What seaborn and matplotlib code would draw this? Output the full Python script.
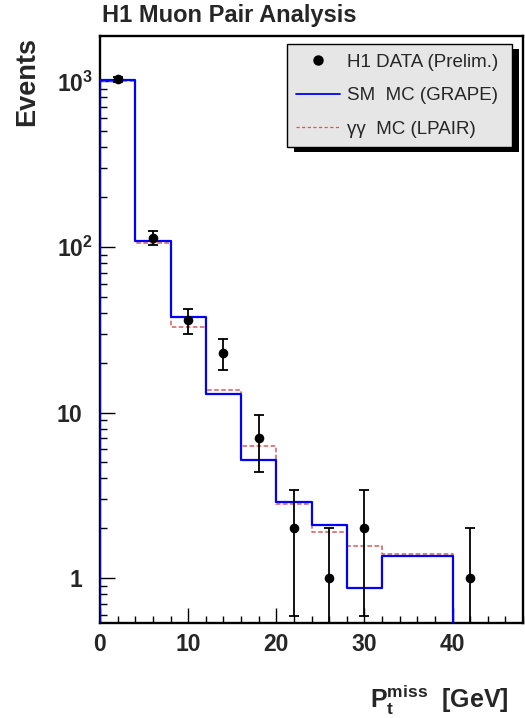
import numpy as np
import pandas as pd
import matplotlib
matplotlib.use("Agg")
import matplotlib.pyplot as plt
import seaborn as sns
from matplotlib.ticker import FixedLocator, MultipleLocator, LogLocator, NullFormatter
from matplotlib.lines import Line2D
from matplotlib.patches import Rectangle

# Missing transverse momentum histogram, bins of P_t^miss in GeV
bin_edges = [0, 4, 8, 12, 16, 20, 24, 28, 32, 40, 48]
sm_grape = [1020, 108, 37.9, 12.9, 5.2, 2.9, 2.09, 0.87, 1.36, 0]
gg_lpair = [1000, 105, 33.0, 13.7, 6.3, 2.8, 1.89, 1.57, 1.40, 0]

# H1 data points with statistical errors
data_x = [2, 6, 10, 14, 18, 22, 26, 30, 42]
data_n = [1030, 114, 36, 23, 7, 2, 1, 2, 1]
data_err = [32, 10.7, 6.0, 4.8, 2.65, 1.41, 1.0, 1.41, 1.0]

x_ticks = [0, 10, 20, 30, 40]
y_ticks = [1, 10, 100, 1000]
y_tick_labels = [r"$\mathbf{1}$", r"$\mathbf{10}$", r"$\mathbf{10^{2}}$", r"$\mathbf{10^{3}}$"]

legend_labels = ["H1 DATA (Prelim.)", "SM  MC (GRAPE)", "\u03b3\u03b3  MC (LPAIR)"]

sns.set_theme(style="ticks")
plt.rcParams["font.family"] = ["Liberation Sans", "DejaVu Sans"]
plt.rcParams["mathtext.fontset"] = "custom"
plt.rcParams["mathtext.rm"] = "Liberation Sans"
plt.rcParams["mathtext.bf"] = "Liberation Sans:bold"
plt.rcParams["mathtext.it"] = "Liberation Sans:italic"

fig = plt.figure(figsize=(5.25, 7.18), dpi=100)
ax = fig.add_axes([100 / 525, 1 - 623 / 718, 423 / 525, 587 / 718])


def step_frame(edges, values):
    xs = [edges[0]] + list(edges)
    ys = [0] + list(values) + [values[-1]]
    return pd.DataFrame({"x": xs, "y": ys})


red_df = step_frame(bin_edges, gg_lpair)
blue_df = step_frame(bin_edges, sm_grape)

sns.lineplot(data=red_df, x="x", y="y", estimator=None, sort=False,
             drawstyle="steps-post", color="#d95c5c", lw=1.1,
             linestyle=(0, (3, 1.6)), ax=ax, zorder=2)
sns.lineplot(data=blue_df, x="x", y="y", estimator=None, sort=False,
             drawstyle="steps-post", color="#0000ff", lw=1.6, ax=ax, zorder=3)

ax.set_yscale("log", nonpositive="clip")

ax.errorbar(data_x, data_n, yerr=data_err, fmt="none", ecolor="black",
            elinewidth=1.3, capsize=3.5, capthick=1.3, zorder=4)
sns.scatterplot(x=data_x, y=data_n, color="black", s=48, edgecolor="black",
                linewidth=0, ax=ax, zorder=5)

ax.set_xlim(0, 48)
ax.set_ylim(0.536, 1880)

ax.xaxis.set_major_locator(FixedLocator(x_ticks))
ax.xaxis.set_minor_locator(MultipleLocator(2))
ax.set_xticklabels([str(t) for t in x_ticks], fontsize=16.5, fontweight="bold")
ax.yaxis.set_major_locator(FixedLocator(y_ticks))
ax.yaxis.set_minor_locator(LogLocator(base=10, subs=np.arange(2, 10)))
ax.yaxis.set_minor_formatter(NullFormatter())
ax.set_yticklabels(y_tick_labels, fontsize=16.5)

ax.tick_params(which="major", direction="in", length=11, width=1.0,
               color="black", top=False, right=False)
ax.tick_params(which="minor", direction="in", length=5, width=1.0,
               color="black", top=False, right=False)
ax.tick_params(axis="x", which="major", pad=7)
for tick, lab in zip(ax.yaxis.get_major_ticks(), y_tick_labels):
    tick.set_pad(5 if "^" in lab else 12.5)

for side in ["left", "bottom", "top", "right"]:
    ax.spines[side].set_visible(True)
    ax.spines[side].set_linewidth(1.7)
    ax.spines[side].set_color("black")

ax.set_xlabel("")
ax.set_ylabel("")

handles = [
    Line2D([], [], marker="o", color="black", ls="none", markersize=6.5),
    Line2D([], [], color="#0000ff", lw=1.3),
    Line2D([], [], color="#e05050", lw=0.9, linestyle=(0, (2.5, 2.0))),
]
leg = ax.legend(handles, legend_labels, loc="upper left",
                bbox_to_anchor=(0.442, 0.811, 0.532, 0.175), mode="expand",
                fontsize=13.5, frameon=True, fancybox=False, framealpha=1,
                facecolor="#e6e6e6", edgecolor="black", handlelength=2.35,
                handletextpad=0.35, labelspacing=0.88, borderpad=0.5,
                borderaxespad=0)
leg.get_frame().set_linewidth(1.0)
leg.set_zorder(10)

fig.canvas.draw()
bb = leg.get_window_extent()
inv = fig.transFigure.inverted()
(x0, y0), (x1, y1) = inv.transform([(bb.x0 + 7, bb.y0 - 5), (bb.x1 + 7, bb.y1 - 5)])
fig.add_artist(Rectangle((x0, y0), x1 - x0, y1 - y0, transform=fig.transFigure,
                         facecolor="black", edgecolor="none", zorder=1.5))
ax.set_zorder(2)
ax.patch.set_alpha(0)

fig.text(102 / 525, 1 - 22 / 718, "H1 Muon Pair Analysis", fontsize=17,
         fontweight="bold", ha="left", va="baseline")
fig.text(27 / 525, 1 - 82 / 718, "Events", fontsize=19.5, fontweight="bold",
         rotation=90, ha="center", va="center")
fig.text(370 / 525, 1 - 708 / 718, r"$\mathbf{P_{t}^{miss}}$  [GeV]", fontsize=18,
         fontweight="bold", ha="left", va="baseline")

fig.savefig("out.png", dpi=100)
